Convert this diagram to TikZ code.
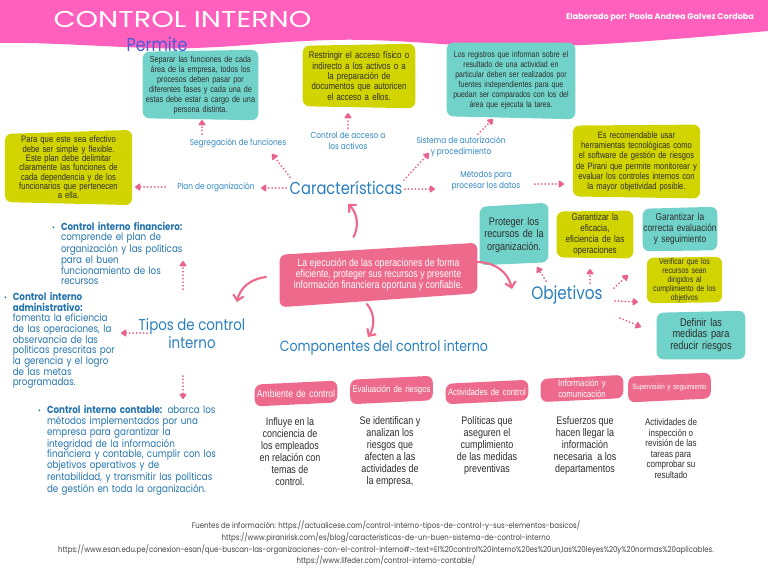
\documentclass[tikz,border=0pt]{standalone}
\usepackage{fontspec}
\setmainfont{Liberation Sans}
\newfontfamily\boxfont[FakeStretch=0.82]{Liberation Sans}
\newfontfamily\bluefont[FakeStretch=0.85]{Poppins}
\newfontfamily\titlefont[FakeStretch=1.25]{Poppins}
\newfontfamily\popfont{Poppins}
\newfontfamily\footfont[FakeStretch=0.86]{Poppins}
\usetikzlibrary{arrows.meta,calc}
\pgfdeclarelayer{bg}
\pgfsetlayers{bg,main}
\definecolor{hdrpink}{HTML}{FF60BE}
\definecolor{mteal}{HTML}{70D2C9}
\definecolor{myellow}{HTML}{D2D400}
\definecolor{mpink}{HTML}{EE6A8C}
\definecolor{arrpink}{HTML}{E8628E}
\definecolor{hblue}{HTML}{2A7FBE}
\definecolor{lblue}{HTML}{3088C6}
\definecolor{bblue}{HTML}{2474AE}
\definecolor{pblue}{HTML}{4A5BD4}
\definecolor{tgray}{HTML}{2E2E2E}
\definecolor{fgray}{HTML}{444444}
\newcommand\blob[6]{\begin{pgfonlayer}{bg}\fill[#2,rounded corners=5pt]
 ($(#1.north west)+(0,#3)$) -- ($(#1.north east)+(0,#4)$) --
 ($(#1.south east)+(0,#5)$) -- ($(#1.south west)+(0,#6)$) -- cycle;\end{pgfonlayer}}
\newcommand\bul{\makebox[0pt][r]{{\fontsize{6}{6}\selectfont\textbullet}\hspace{4.5pt}}}
\begin{document}
\begin{tikzpicture}[x=0.75pt,y=-0.75pt,
  boxt/.style={inner sep=0pt, align=center, text=tgray, font=\boxfont\fontsize{6.6}{7.5}\selectfont},
  lbl/.style={inner sep=0pt, align=center, text=lblue, font=\bluefont\fontsize{6.5}{8.2}\selectfont},
  headt/.style={inner sep=0pt, align=center, text=hblue},
  bult/.style={inner sep=0pt, align=left, text=bblue, font=\bluefont\fontsize{7.7}{8}\selectfont},
  dotarrow/.style={arrpink, line width=1.5pt, dash pattern=on 0pt off 2.6pt, line cap=round, -{Triangle[length=4.5pt,width=6pt,round]}},
  curvearrow/.style={mpink, line width=1.6pt, line cap=round, -{Straight Barb[length=4pt,width=8pt]}},
  compt/.style={inner sep=0pt, align=center, text=white, minimum width=61.5pt, text width=61pt, font=\boxfont\fontsize{7.1}{8}\selectfont},
  desct/.style={inner sep=0pt, align=center, text=tgray, font=\boxfont\fontsize{8.2}{9}\selectfont}]
\useasboundingbox (0,0) rectangle (768,576);
\begin{pgfonlayer}{bg}
\fill[white] (0,0) rectangle (768,576);
\fill[hdrpink] (0,0) -- (768,0) -- (768,31) .. controls (690,38) and (600,46) .. (520,47)
  .. controls (460,48) and (400,38) .. (330,40) .. controls (260,42) and (220,50) .. (150,48)
  .. controls (90,46) and (40,42) .. (0,43) -- cycle;
\end{pgfonlayer}

% header
\node[text=white, inner sep=0pt, font=\titlefont\fontsize{17.2}{17.2}\selectfont] (title) at (182.5,19) {CONTROL INTERNO};
\node[text=white, inner sep=0pt, font=\popfont\bfseries\fontsize{6.1}{6.2}\selectfont] (author) at (660,18) {Elaborado por: Paola Andrea Galvez Cordoba};
\node[inner sep=0pt, text=pblue, font=\bluefont\fontsize{14}{14}\selectfont] (permite) at (157,44) {Permite};

% top boxes
\node[boxt, minimum width=86.25pt, minimum height=49.5pt, text width=84pt] (t1) at (200.5,85)
 {Separar las funciones de cada\\área de la empresa, todos los\\procesos deben pasar por\\diferentes fases y cada una de\\estas debe estar a cargo de una\\persona distinta.};
\blob{t1}{mteal}{0}{-2}{2}{0}
\node[boxt, minimum width=84pt, minimum height=46.5pt, text width=82pt, font=\boxfont\fontsize{7.2}{7.7}\selectfont] (y2) at (359,76)
 {Restringir el acceso físico o\\indirecto a los activos o a\\la preparación de\\documentos que autoricen\\el acceso a ellos.};
\blob{y2}{myellow}{1}{-1}{1}{-1}
\node[boxt, minimum width=96pt, minimum height=55.5pt, text width=95pt, font=\boxfont\fontsize{6.4}{7.5}\selectfont] (t3) at (511,80)
 {Los registros que informan sobre el\\resultado de una actividad en\\particular deben ser realizados por\\fuentes independientes para que\\puedan ser comparados con los del\\área que ejecuta la tarea.};
\blob{t3}{mteal}{0}{0}{2}{-1}
\node[boxt, minimum width=95pt, minimum height=56pt, text width=94pt, font=\boxfont\fontsize{7}{7}\selectfont] (yl) at (68.5,167.5)
 {Para que este sea efectivo\\debe ser simple y flexible.\\Este plan debe delimitar\\claramente las funciones de\\cada dependencia y de los\\funcionarios que pertenecen\\a ella.};
\blob{yl}{myellow}{4}{0}{0}{-3}
\node[boxt, minimum width=95pt, minimum height=55pt, text width=94pt, font=\boxfont\fontsize{6.9}{7.7}\selectfont] (yr) at (636.5,161.5)
 {Es recomendable usar\\herramientas tecnológicas como\\el software de gestión de riesgos\\de Pirani que permite monitorear y\\evaluar los controles internos con\\la mayor objetividad posible.};
\blob{yr}{myellow}{1}{0}{0}{-2}

% labels
\node[lbl] (segr) at (238,143) {Segregación de funciones};
\node[lbl] (acc) at (348,140.5) {Control de acceso a\\los activos};
\node[lbl] (sis) at (461,147) {Sistema de autorización\\y procedimiento};
\node[lbl] (plan) at (216,187) {Plan de organización};
\node[lbl] (met) at (486,181) {Métodos para\\procesar los datos};
\node[headt, font=\bluefont\fontsize{13}{13}\selectfont] (caract) at (346,188) {Características};

% centre
\node[inner sep=0pt, align=center, text=white, minimum width=148pt, minimum height=39pt, font=\boxfont\fontsize{8}{8.3}\selectfont] (ejec) at (378.5,275)
 {La ejecución de las operaciones de forma\\eficiente, proteger sus recursos y presente\\información financiera oportuna y confiable.};
\blob{ejec}{mpink}{6}{-6}{-8}{6}

% tipos
\node[headt, font=\bluefont\fontsize{11.8}{13.5}\selectfont] (tipos) at (192,334) {Tipos de control\\interno};
\node[bult, text width=105pt] (fin) at (131,253.5)
 {\bul\textbf{Control interno financiero:}\\comprende el plan de\\organización y las políticas\\para el buen\\funcionamiento de los\\recursos};
\node[bult, text width=94pt] (adm) at (75.5,340.5)
 {\bul\textbf{Control interno}\\\textbf{administrativo:}\\fomenta la eficiencia\\de las operaciones, la\\observancia de las\\políticas prescritas por\\la gerencia y el logro\\de las metas\\programadas.};
\node[bult, text width=150pt] (cont) at (147,450.5)
 {\bul\textbf{Control interno contable:} abarca los\\métodos implementados por una\\empresa para garantizar la\\integridad de la información\\financiera y contable, cumplir con los\\objetivos operativos y de\\rentabilidad, y transmitir las políticas\\de gestión en toda la organización.};

% objetivos
\node[headt, font=\bluefont\fontsize{13.5}{13.5}\selectfont] (obj) at (567,295) {Objetivos};
\node[boxt, minimum width=51pt, minimum height=45pt, text width=50pt, font=\boxfont\fontsize{8.3}{9.2}\selectfont] (prot) at (514,235)
 {Proteger los\\recursos de la\\organización.};
\blob{prot}{mteal}{2}{-2}{-3}{0}
\node[boxt, minimum width=57pt, minimum height=34pt, text width=56pt, font=\boxfont\fontsize{7.3}{8.4}\selectfont] (gef) at (595,234.5)
 {Garantizar la\\eficacia,\\eficiencia de las\\operaciones};
\blob{gef}{myellow}{0}{-1}{1}{0}
\node[boxt, minimum width=55.5pt, minimum height=31.5pt, text width=55pt, font=\boxfont\fontsize{7.6}{8.2}\selectfont] (gco) at (680,229)
 {Garantizar la\\correcta evaluación\\y seguimiento};
\blob{gco}{mteal}{1}{-1}{0}{1}
\node[boxt, minimum width=56pt, minimum height=33pt, text width=55pt, font=\boxfont\fontsize{6.3}{6.7}\selectfont] (ver) at (684.5,280)
 {Verificar que los\\recursos sean\\dirigidos al\\cumplimiento de los\\objetivos};
\blob{ver}{myellow}{0}{-1}{0}{1}
\node[boxt, minimum width=66pt, minimum height=34.5pt, text width=65pt, font=\boxfont\fontsize{8.4}{8.6}\selectfont] (def) at (701,335)
 {Definir las\\medidas para\\reducir riesgos};
\blob{def}{mteal}{1}{-1}{1}{1}

% componentes
\node[headt, font=\bluefont\fontsize{11.1}{12}\selectfont] (comp) at (384,348) {Componentes del control interno};
\node[compt, minimum height=16pt, font=\boxfont\fontsize{7.8}{8}\selectfont] (c1) at (296,393.5) {Ambiente de control};
\blob{c1}{mpink}{2}{-2}{-2}{2}
\node[compt, minimum height=18pt] (c2) at (391.5,390) {Evaluación de riesgos};
\blob{c2}{mpink}{2}{-2}{-2}{2}
\node[compt, minimum height=15pt] (c3) at (487,392) {Actividades de control};
\blob{c3}{mpink}{2}{-2}{-2}{2}
\node[compt, minimum height=17pt] (c4) at (582,388.5) {Información y\\comunicación};
\blob{c4}{mpink}{2}{-2}{-2}{2}
\node[compt, minimum height=19pt, font=\boxfont\fontsize{5.7}{7}\selectfont] (c5) at (669.5,387.5) {Supervisión y seguimiento};
\blob{c5}{mpink}{2}{-2}{-2}{2}

\node[desct] (d1) at (290,451.5) {Influye en la\\conciencia de\\los empleados\\en relación con\\temas de\\control.};
\node[desct] (d2) at (390,451.5) {Se identifican y\\analizan los\\riesgos que\\afecten a las\\actividades de\\la empresa,};
\node[desct] (d3) at (487,446) {Políticas que\\aseguren el\\cumplimiento\\de las medidas\\preventivas};
\node[desct] (d4) at (585,445.5) {Esfuerzos que\\hacen llegar la\\información\\necesaria\ \ a los\\departamentos};
\node[desct, font=\boxfont\fontsize{7.3}{7.9}\selectfont] (d5) at (671,448.5) {Actividades de\\inspección o\\revisión de las\\tareas para\\comprobar su\\resultado};

% footer
\node[inner sep=0pt, align=center, text=fgray, font=\footfont\fontsize{6.1}{8.75}\selectfont] (foot) at (386,543.5)
 {Fuentes de información: https://actualicese.com/control-interno-tipos-de-control-y-sus-elementos-basicos/\\
  https://www.piranirisk.com/es/blog/caracteristicas-de-un-buen-sistema-de-control-interno\\
  https://www.esan.edu.pe/conexion-esan/que-buscan-las-organizaciones-con-el-control-interno\#:\textasciitilde:text=El\%20control\%20interno\%20es\%20un,las\%20leyes\%20y\%20normas\%20aplicables.\\
  https://www.lifeder.com/control-interno-contable/};

% dotted arrows
\draw[dotarrow] ($(caract)+(-56,-11)$) -- ($(segr)+(34,11)$);
\draw[dotarrow] ($(caract)+(-60,0)$) -- ($(plan)+(45,1)$);
\draw[dotarrow] ($(plan)+(-51,0)$) -- ($(yl)+(66.5,19.5)$);
\draw[dotarrow] ($(segr)+(-36,-9)$) -- ($(t1)+(1.5,35)$);
\draw[dotarrow] ($(acc)+(0,-12.5)$) -- ($(y2)+(-11,37)$);
\draw[dotarrow] ($(sis)+(17,-13)$) -- ($(t3)+(-18,39)$);
\draw[dotarrow] ($(caract)+(58,-8)$) -- ($(sis)+(-32,6)$);
\draw[dotarrow] ($(caract)+(59,1)$) -- ($(met)+(-51,8)$);
\draw[dotarrow] ($(met)+(49,3)$) -- ($(yr)+(-72.5,22.5)$);
\draw[dotarrow] ($(tipos)+(-9,-45)$) -- ($(fin)+(52,7.5)$);
\draw[dotarrow] ($(tipos)+(-45,-1)$) -- ($(adm)+(45.5,-7.5)$);
\draw[dotarrow] ($(tipos)+(-9,42)$) -- ($(cont)+(36,-51.5)$);
\draw[dotarrow] ($(obj)+(-21,-14)$) -- ($(prot)+(23,32)$);
\draw[dotarrow] ($(obj)+(23,-12)$) -- ($(gef)+(-5,34.5)$);
\draw[dotarrow] ($(obj)+(47,-7)$) -- ($(gco)+(-52,46)$);
\draw[dotarrow] ($(obj)+(48,6)$) -- ($(ver)+(-46.5,22)$);
\draw[dotarrow] ($(obj)+(53,23)$) -- ($(def)+(-60,-8)$);

% curved arrows
\draw[curvearrow] ($(ejec)+(-25,-38)$) .. controls ($(ejec)+(-20,-47)$) and ($(ejec)+(-20,-61)$) .. ($(caract)+(2,16)$);
\draw[curvearrow] ($(ejec)+(-112.5,2)$) .. controls ($(ejec)+(-128.5,4)$) and ($(ejec)+(-138.5,13)$) .. ($(tipos)+(45,-32)$);
\draw[curvearrow] ($(ejec)+(-11.5,29)$) .. controls ($(ejec)+(-2.5,40)$) and ($(ejec)+(-4.5,53)$) .. ($(comp)+(-16,-11)$);
\draw[curvearrow] ($(ejec)+(97.5,-13)$) .. controls ($(ejec)+(116.5,-13)$) and ($(ejec)+(129.5,-3)$) .. ($(obj)+(-55,-6)$);
\end{tikzpicture}
\end{document}
